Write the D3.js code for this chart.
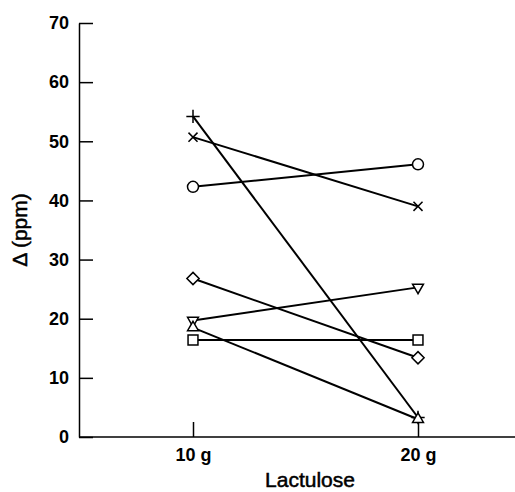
<!DOCTYPE html>
<html>
<head>
<meta charset="utf-8">
<script src="https://cdn.jsdelivr.net/npm/d3@7"></script>
<style>
  body { margin: 0; background: #fff; }
  text { font-family: "Liberation Sans", Arial, Helvetica, sans-serif; fill: #000; }
</style>
</head>
<body>
<div id="chart"></div>
<script>
// Lactulose dose, one line per subject
const doses = ["10 g", "20 g"];
const subjects = ["plus", "times", "circle", "diamond", "triDown", "triUp", "square"];
const at10g = [54.2, 50.7, 42.3, 26.8, 19.7, 18.5, 16.4];
const at20g = [3.3, 39.0, 46.1, 13.4, 25.3, 3.0, 16.4];
const yTicks = [0, 10, 20, 30, 40, 50, 60, 70];

const w = 515, h = 492;
const mLeft = 79, mBottom = 437, mTop = 23, mRight = 515;

const svg = d3.select("#chart").append("svg")
    .attr("width", w)
    .attr("height", h);

const x = d3.scalePoint()
    .domain(doses)
    .range([193, 418]);

const y = d3.scaleLinear()
    .domain([0, 70])
    .range([mBottom, mTop]);

// y axis, ticks point inwards
const yAxis = svg.append("g")
    .attr("transform", `translate(${mLeft},0)`)
    .call(d3.axisLeft(y).tickValues(yTicks).tickSizeInner(-14).tickSizeOuter(0).tickPadding(10));
yAxis.select(".domain").attr("stroke-width", 1.5);
yAxis.selectAll(".tick line").attr("stroke-width", 1.5);
yAxis.selectAll(".tick text")
    .style("font-size", "18px")
    .style("font-weight", "bold");

// x axis
const xAxis = svg.append("g")
    .attr("transform", `translate(0,${mBottom})`)
    .call(d3.axisBottom(x).tickSize(-15).tickPadding(11));
xAxis.select(".domain").remove();
xAxis.append("line")
    .attr("x1", mLeft).attr("x2", mRight)
    .attr("stroke", "#000")
    .attr("stroke-width", 1.5);
xAxis.selectAll(".tick line").attr("stroke-width", 1.5);
xAxis.selectAll(".tick text")
    .style("font-size", "18px")
    .style("font-weight", "bold");

// axis titles (slight stroke to get the medium weight)
svg.append("text")
    .attr("x", 310)
    .attr("y", 487)
    .attr("text-anchor", "middle")
    .style("font-size", "21px")
    .style("stroke", "#000")
    .style("stroke-width", 0.5)
    .text("Lactulose");

svg.append("text")
    .attr("transform", "translate(27,230) rotate(-90)")
    .attr("text-anchor", "middle")
    .style("font-size", "21px")
    .style("stroke", "#000")
    .style("stroke-width", 0.5)
    .text("Δ (ppm)");

// build rows
const rows = subjects.map((s, i) => ({ name: s, values: [at10g[i], at20g[i]] }));

const line = d3.line()
    .x((d, i) => x(doses[i]))
    .y(d => y(d));

svg.append("g")
    .selectAll("path")
    .data(rows)
    .join("path")
        .attr("d", d => line(d.values))
        .attr("fill", "none")
        .attr("stroke", "#000")
        .attr("stroke-width", 2);

// marker shapes
const shapes = {
    plus:    { type: d3.symbolPlus, size: 60, rot: 0 },
    times:   { type: d3.symbolTimes, size: 55, rot: 0 },
    circle:  { type: d3.symbolCircle, size: 95, rot: 0 },
    diamond: { type: d3.symbolDiamond2, size: 95, rot: 0 },
    triDown: { type: d3.symbolTriangle2, size: 85, rot: 180 },
    triUp:   { type: d3.symbolTriangle2, size: 85, rot: 0 },
    square:  { type: d3.symbolSquare2, size: 125, rot: 0 }
};

const pts = rows.flatMap(r => r.values.map((v, i) => ({ name: r.name, dose: doses[i], v: v })));

svg.append("g")
    .selectAll("path")
    .data(pts)
    .join("path")
        .attr("transform", d => `translate(${x(d.dose)},${y(d.v)}) rotate(${shapes[d.name].rot})`)
        .attr("d", d => d3.symbol(shapes[d.name].type, shapes[d.name].size)())
        .attr("fill", d => (d.name === "plus" || d.name === "times") ? "none" : "#fff")
        .attr("stroke", "#000")
        .attr("stroke-width", 1.5);
</script>
</body>
</html>
